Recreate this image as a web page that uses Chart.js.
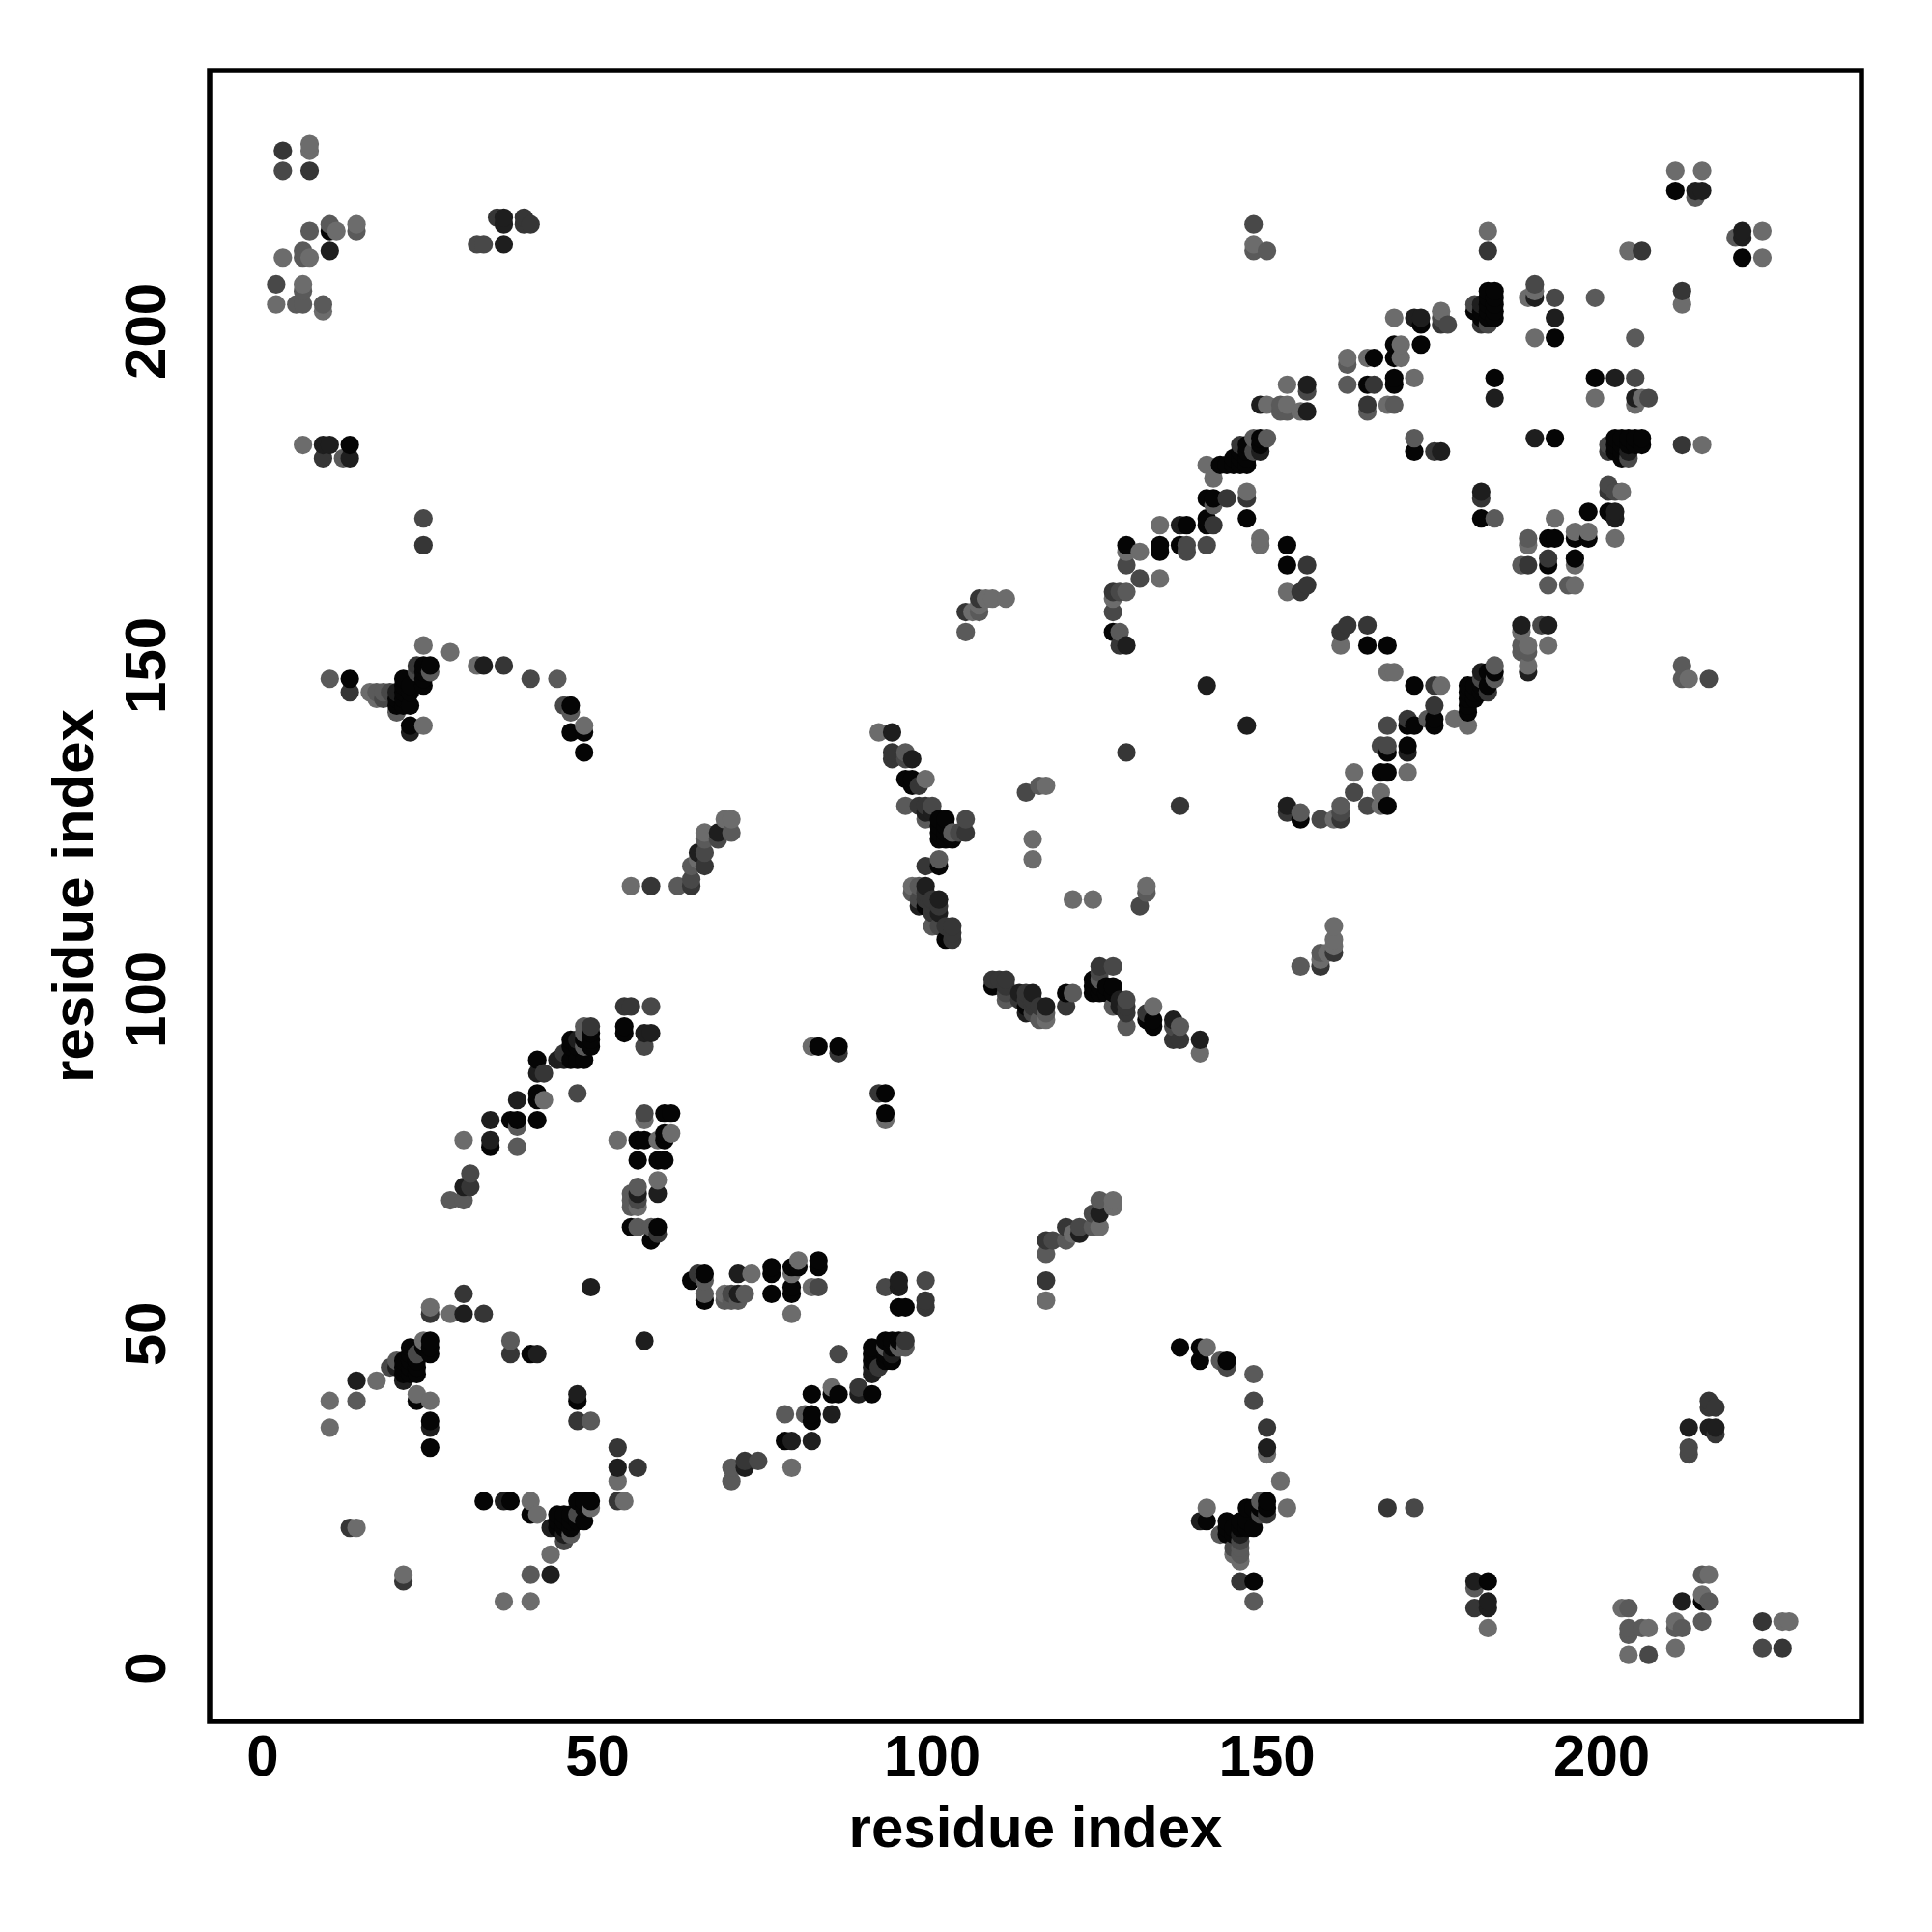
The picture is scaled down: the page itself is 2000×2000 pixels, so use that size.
<!DOCTYPE html>
<html><head><meta charset="utf-8">
<style>html,body{margin:0;padding:0;background:#fff}canvas{display:block}</style>
<script src="https://cdn.jsdelivr.net/npm/chart.js@4"></script>
</head><body><canvas id="c" width="2000" height="2000"></canvas>
<script>
const tickValues=[0,50,100,150,200];
const axisLabel="residue index";
const shades=["#050505","#1e1e1e","#363636","#484848","#5a5a5a","#6c6c6c"];
const x0=[40,25,25,25,22,24,22,21,23,22,21,22,21,23,22,23,23,25,25,55,59,58,60,61,56,57,60,60,56,59,60,34,37,38,41,41,41,41,46,47,48,46,46,47,49,49,49,48,54,54,83,86,96,97,97,101,102,101,102,101,102,103,101,102,101,99,102,153,153,147,129,134,134,137,138,141,141,142,141,143,144,145,146,147,147,145,146,149,149,127,147,147,146,165,166,169,169,169,169,173,173,172,181,182,182,183,183,183,183,183,184,184,184,184,184,193,184,13,20,20,21,21,21,21,21,22,22,22,24,24,24,24,25,46,46,48,48,22,10,13,211,
47,49,48,47,48,48,47,45,44,44,44,46,46,45,45,46,40,37,33,66,66,64,83,83,79,79,80,79,76,76,76,78,82,82,82,85,86,91,91,91,91,93,94,93,95,94,93,94,96,95,93,93,133,133,132,127,127,125,125,124,124,124,126,126,120,114,109,165,168,172,168,167,168,168,171,171,172,175,175,180,180,181,180,180,181,180,181,184,183,155,182,183,182,192,196,198,196,193,192,198,201,182,203,203,202,202,203,204,205,206,202,203,204,205,206,199,193,148,145,144,148,147,146,145,144,144,146,147,150,149,148,147,150,144,140,140,137,141,215,183,221];
const y0=[47,49,48,47,48,48,47,45,44,44,44,46,46,45,45,46,40,37,33,66,66,64,83,83,79,79,80,79,76,76,76,78,82,82,82,85,86,91,91,91,91,93,94,93,95,94,93,94,96,95,93,93,133,133,132,127,127,125,125,124,124,124,126,126,120,114,109,165,168,172,168,167,168,168,171,171,172,175,175,180,180,181,180,180,181,180,181,184,183,155,182,183,182,192,196,198,196,193,192,198,201,182,203,203,202,202,203,204,205,206,202,203,204,205,206,199,193,148,145,144,148,147,146,145,144,144,146,147,150,149,148,147,150,144,140,140,137,141,215,183,221,
40,25,25,25,22,24,22,21,23,22,21,22,21,23,22,23,23,25,25,55,59,58,60,61,56,57,60,60,56,59,60,34,37,38,41,41,41,41,46,47,48,46,46,47,49,49,49,48,54,54,83,86,96,97,97,101,102,101,102,101,102,103,101,102,101,99,102,153,153,147,129,134,134,137,138,141,141,142,141,143,144,145,146,147,147,145,146,149,149,127,147,147,146,165,166,169,169,169,169,173,173,172,181,182,182,183,183,183,183,183,184,184,184,184,184,193,184,13,20,20,21,21,21,21,21,22,22,22,24,24,24,24,25,46,46,48,48,22,10,13,211];
const x1=[30,49,41,20,21,14,25,56,59,30,34,34,38,41,44,45,47,57,58,65,68,94,97,100,99,99,98,101,101,129,137,141,149,156,149,156,172,173,176,182,190,193,184,214,215,36,36,36,10,9,10,13,22,33,20,
53,57,47,45,43,43,36,71,71,72,79,82,85,89,91,91,94,95,95,122,125,140,136,128,128,117,114,115,113,153,171,147,182,192,189,188,202,202,182,204,205,202,190,221,221,213,217,216,212,183,183,181,140,150,146];
const y1=[53,57,47,45,43,43,36,71,71,72,79,82,85,89,91,91,94,95,95,122,125,140,136,128,128,117,114,115,113,153,171,147,182,192,189,188,202,202,182,204,205,202,190,221,221,213,217,216,212,183,183,181,140,150,146,
30,49,41,20,21,14,25,56,59,30,34,34,38,41,44,45,47,57,58,65,68,94,97,100,99,99,98,101,101,129,137,141,149,156,149,156,172,173,176,182,190,193,184,214,215,36,36,36,10,9,10,13,22,33,20];
const x2=[30,25,33,37,59,31,42,45,49,54,55,86,58,64,66,94,94,98,98,99,105,99,100,99,100,101,100,102,103,103,103,99,129,128,127,142,144,146,147,155,156,156,166,165,176,175,182,3,7,35,13,23,36,183,206,24,39,39,40,9,13,105,107,
56,53,53,47,65,72,89,92,96,99,99,92,117,117,120,137,136,132,129,129,125,120,114,115,115,114,113,111,111,110,109,116,137,153,161,171,175,183,175,161,162,165,192,189,201,182,201,227,224,217,146,150,150,212,212,168,217,216,216,181,21,158,160];
const y2=[56,53,53,47,65,72,89,92,96,99,99,92,117,117,120,137,136,132,129,129,125,120,114,115,115,114,113,111,111,110,109,116,137,153,161,171,175,183,175,161,162,165,192,189,201,182,201,227,224,217,146,150,150,212,212,168,217,216,216,181,21,158,160,
30,25,33,37,59,31,42,45,49,54,55,86,58,64,66,94,94,98,98,99,105,99,100,99,100,101,100,102,103,103,103,99,129,128,127,142,144,146,147,155,156,156,166,165,176,175,182,3,7,35,13,23,36,183,206,24,39,39,40,9,13,105,107];
const x3=[23,19,56,31,58,57,47,18,19,23,40,45,64,66,68,96,100,104,98,101,114,105,131,129,127,128,138,138,141,148,156,177,176,181,183,193,190,57,2,3,32,33,24,148,
47,45,70,74,99,93,86,145,146,149,148,144,118,122,124,136,129,125,115,111,131,127,163,165,158,161,167,168,168,182,191,201,202,204,201,205,207,83,207,224,213,213,172,216];
const y3=[47,45,70,74,99,93,86,145,146,149,148,144,118,122,124,136,129,125,115,111,131,127,163,165,158,161,167,168,168,182,191,201,202,204,201,205,207,83,207,224,213,213,172,216,
23,19,56,31,58,57,47,18,19,23,40,45,64,66,68,96,100,104,98,101,114,105,131,129,127,128,138,138,141,148,156,177,176,181,183,193,190,57,2,3,32,33,24,148];
const x4=[37,20,14,56,58,55,55,55,56,28,30,38,38,48,48,48,62,64,70,66,96,96,99,103,101,98,97,100,116,105,107,128,129,142,148,150,148,150,152,152,153,165,162,162,169,172,199,214,10,6,6,7,5,6,6,9,12,14,17,18,20,25,46,10,44,
49,46,40,66,66,69,70,71,72,70,70,81,78,93,96,95,117,120,125,124,137,129,127,125,121,117,116,111,132,155,158,155,161,174,184,184,212,212,189,188,188,188,195,192,189,184,205,220,216,212,211,215,204,204,206,204,181,215,146,146,143,149,143,148,148];
const y4=[49,46,40,66,66,69,70,71,72,70,70,81,78,93,96,95,117,120,125,124,137,129,127,125,121,117,116,111,132,155,158,155,161,174,184,184,212,212,189,188,188,188,195,192,189,184,205,220,216,212,211,215,204,204,206,204,181,215,146,146,143,149,143,148,148,
37,20,14,56,58,55,55,55,56,28,30,38,38,48,48,48,62,64,70,66,96,96,99,103,101,98,97,100,116,105,107,128,129,142,148,150,148,150,152,152,153,165,162,162,169,172,199,214,10,6,6,7,5,6,6,9,12,14,17,18,20,25,46,10,44];
const x5=[25,28,24,17,23,25,10,10,14,56,59,57,53,59,61,30,42,82,55,65,66,69,70,92,99,97,115,115,117,106,107,108,109,111,127,129,131,134,134,141,142,147,149,149,153,153,150,153,155,162,165,170,170,172,168,169,176,189,190,190,148,183,204,211,215,7,3,6,2,9,11,14,7,7,6,16,17,24,24,28,32,48,
54,53,49,43,41,40,40,36,21,69,73,82,79,79,80,79,85,93,117,121,125,127,127,140,133,117,121,124,132,158,159,160,160,160,160,167,167,163,171,180,178,176,169,168,161,192,189,189,188,196,196,198,196,193,189,202,203,205,199,206,213,215,212,224,224,211,211,207,204,203,215,216,227,228,183,146,145,141,153,152,150,141];
const y5=[54,53,49,43,41,40,40,36,21,69,73,82,79,79,80,79,85,93,117,121,125,127,127,140,133,117,121,124,132,158,159,160,160,160,160,167,167,163,171,180,178,176,169,168,161,192,189,189,188,196,196,198,196,193,189,202,203,205,199,206,213,215,212,224,224,211,211,207,204,203,215,216,227,228,183,146,145,141,153,152,150,141,
25,28,24,17,23,25,10,10,14,56,59,57,53,59,61,30,42,82,55,65,66,69,70,92,99,97,115,115,117,106,107,108,109,111,127,129,131,134,134,141,142,147,149,149,153,153,150,153,155,162,165,170,170,172,168,169,176,189,190,190,148,183,204,211,215,7,3,6,2,9,11,14,7,7,6,16,17,24,24,28,32,48];

const groups=[[x0,y0],[x1,y1],[x2,y2],[x3,y3],[x4,y4],[x5,y5]];
const pts=[];
groups.forEach(([xs,ys],s)=>xs.forEach((v,i)=>pts.push({x:v,y:ys[i],s})));
pts.sort((a,b)=>a.x-b.x||a.y-b.y);

const font={family:'"Liberation Sans",Arial,sans-serif',size:60,weight:'bold',lineHeight:1};
const setTicks=s=>{s.ticks=tickValues.map(v=>({value:v}));};
const frame={id:'frame',afterDraw(ch){const a=ch.chartArea,c=ch.ctx;c.save();c.lineWidth=5.5;c.strokeStyle='#000';c.strokeRect(a.left,a.top,a.right-a.left,a.bottom-a.top);c.restore();}};
new Chart(document.getElementById('c'),{
 type:'scatter',
 data:{datasets:[{data:pts,backgroundColor:pts.map(p=>shades[p.s]),pointRadius:9.6,pointBorderWidth:0,borderWidth:0,pointHoverRadius:9.6}]},
 options:{
  responsive:false,animation:false,devicePixelRatio:1,
  layout:{padding:{left:0,top:73,right:73,bottom:0}},
  plugins:{legend:{display:false},tooltip:{enabled:false}},
  scales:{
   x:{type:'linear',min:-7.94,max:238.8,afterBuildTicks:setTicks,afterFit:s=>{s.height=218;},
      grid:{display:false,drawTicks:false},border:{display:false},
      ticks:{color:'#000',font,padding:9,autoSkip:false,maxRotation:0,minRotation:0},
      title:{display:true,text:axisLabel,color:'#000',font,padding:{top:0,bottom:75}}},
   y:{type:'linear',min:-7.95,max:239,afterBuildTicks:setTicks,afterFit:s=>{s.width=217;},
      grid:{display:false,drawTicks:false},border:{display:false},
      ticks:{color:'#000',font,padding:12,autoSkip:false,minRotation:90,maxRotation:90,crossAlign:'center'},
      title:{display:true,text:axisLabel,color:'#000',font,padding:{top:49,bottom:0}}}
  }
 },
 plugins:[frame]
});
</script></body></html>
